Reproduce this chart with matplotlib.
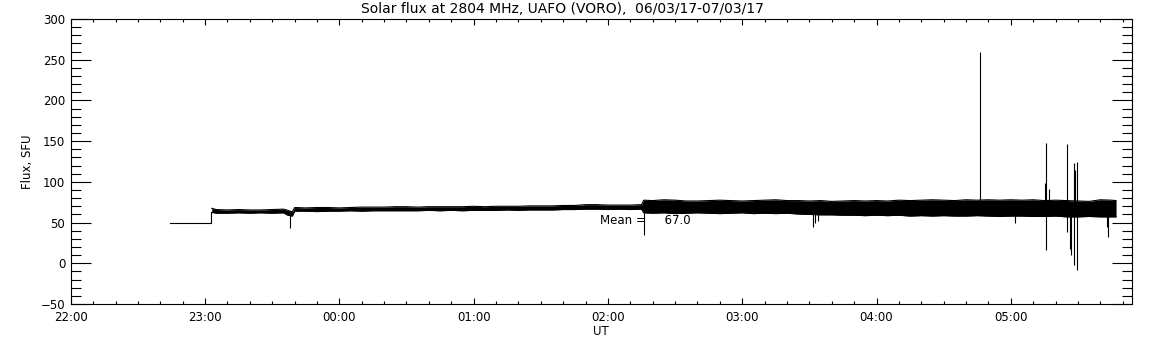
import numpy as np
import matplotlib
matplotlib.use('Agg')
import matplotlib.pyplot as plt
from matplotlib.ticker import FixedLocator, MultipleLocator

# time axis: minutes after 22:00 UT on 06/03/17
hour_labels = ['22:00', '23:00', '00:00', '01:00', '02:00', '03:00', '04:00', '05:00']

# calibration level before the receiver came on
pre_min = [44.3, 62.6]
pre_flux = [50, 50]

# envelope of the noisy record (min, max flux in each 5 min block)
band_min = [63, 65, 70, 75, 80, 85, 90, 95, 97, 99,
            100, 105, 110, 115, 120, 125, 130, 135, 140, 145, 150, 155, 160, 165, 170, 175, 180,
            185, 190, 195, 200, 205, 210, 215, 220, 225, 230, 235, 240, 245, 250, 255,
            256, 260, 265, 270, 275, 280, 285, 290, 295, 300, 305, 310, 315, 320, 325, 330, 335,
            340, 345, 350, 355, 360, 365, 370, 375, 380, 385, 390, 395, 400, 405, 410, 415, 420,
            425, 430, 435, 440, 445, 450, 455, 460, 465, 467]
band_lo = [62.5, 61.5, 61.5, 62, 61.5, 62, 61.5, 62, 59, 58,
           64, 64, 63.5, 64, 64, 64.5, 64, 64.5, 64.5, 64.5, 64.5, 64.5, 65, 64.5, 65, 64.5, 65,
           65, 65, 65.5, 65, 65.5, 65.5, 65.5, 66, 66, 66.5, 66.5, 66, 66.5, 66, 66.5,
           62, 61.5, 62, 61, 61.5, 62, 61.5, 61, 61.5, 62, 61, 61.5, 61, 61.5, 60.5, 60, 59.5,
           59.5, 59, 59, 58.5, 59, 58.5, 59, 58, 58.5, 58, 58.5, 58, 58, 58.5, 58, 57.5, 58,
           58, 57.5, 57.5, 58, 57, 57, 57.5, 57, 57, 57]
band_hi = [67.5, 66, 65.5, 66, 65.5, 65.5, 66, 66.5, 65, 63,
           68.5, 68, 68.5, 68.5, 68, 68.5, 69, 69, 69, 69.5, 69.5, 69, 69.5, 69.5, 69.5, 69.5, 70,
           69.5, 70, 70, 70, 70.5, 70.5, 70.5, 71, 71, 72, 72, 71.5, 71.5, 71.5, 72,
           77.5, 77, 78, 77.5, 76.5, 76.5, 77, 77.5, 77, 76.5, 77, 77.5, 78, 77, 77, 76.5, 77,
           76, 76.5, 77, 76.5, 77, 76.5, 77.5, 77, 77.5, 78, 77.5, 77, 78, 77.5, 78, 77.5, 78,
           77.5, 78, 77, 77.5, 77, 76.5, 76, 78, 77.5, 77]

# isolated spikes / bursts (minute, low, high)
spike_min = [98.1, 256.1, 331.5, 332.5, 334, 406.1, 422, 435.4, 435.6, 437.1,
             445.2, 446.4, 446.8, 448.2, 448.7, 449.4, 462.8, 463.2]
spike_lo = [43, 35, 45, 49, 52, 62, 50, 60, 16.5, 60,
            39, 18, 10, -2, 60, -8, 45, 32.5]
spike_hi = [63, 77, 62, 62, 62, 259.5, 60, 98, 147.5, 91,
            146.5, 60, 60, 123, 115, 124, 60, 60]

mean_flux = 67.0

fig = plt.figure(figsize=(11.52, 3.45), dpi=100)
ax = fig.add_axes([0.0614, 0.1188, 0.921, 0.8262])

to_h = lambda m: np.asarray(m) / 60.0
lw = 0.8

ax.plot(to_h(pre_min + [pre_min[-1]]), pre_flux + [band_lo[0]], color='k', lw=lw)
t = to_h(band_min)
ax.fill_between(t, band_lo, band_hi, color='k', lw=0)
ax.plot(t, band_lo, color='k', lw=lw)
ax.plot(t, band_hi, color='k', lw=lw)
ax.vlines(to_h(spike_min), spike_lo, spike_hi, color='k', lw=lw)

ax.text(3.94, 53, f'Mean =     {mean_flux:.1f}', fontsize=8.5, va='center', ha='left')

ax.set_xlim(0, 7.9)
ax.set_ylim(-50, 300)
ax.xaxis.set_major_locator(FixedLocator(range(len(hour_labels))))
ax.set_xticklabels(hour_labels)
ax.xaxis.set_minor_locator(MultipleLocator(1 / 6))
ax.yaxis.set_major_locator(MultipleLocator(50))
ax.yaxis.set_minor_locator(MultipleLocator(10))

ax.tick_params(axis='both', which='both', direction='in', top=True, right=True,
               labelsize=8.5, width=0.8)
ax.tick_params(axis='x', which='major', length=4.5, pad=5)
ax.tick_params(axis='x', which='minor', length=2.2)
ax.tick_params(axis='y', which='major', length=14.4, pad=4)
ax.tick_params(axis='y', which='minor', length=7.2)
for s in ax.spines.values():
    s.set_linewidth(0.8)

ax.set_xlabel('UT', fontsize=8.5, labelpad=1)
ax.set_ylabel('Flux, SFU', fontsize=8.5, labelpad=5)
ax.set_title('Solar flux at 2804 MHz, UAFO (VORO),  06/03/17-07/03/17', fontsize=10, pad=4,
             x=0.463)

fig.savefig('out.png', dpi=100)
